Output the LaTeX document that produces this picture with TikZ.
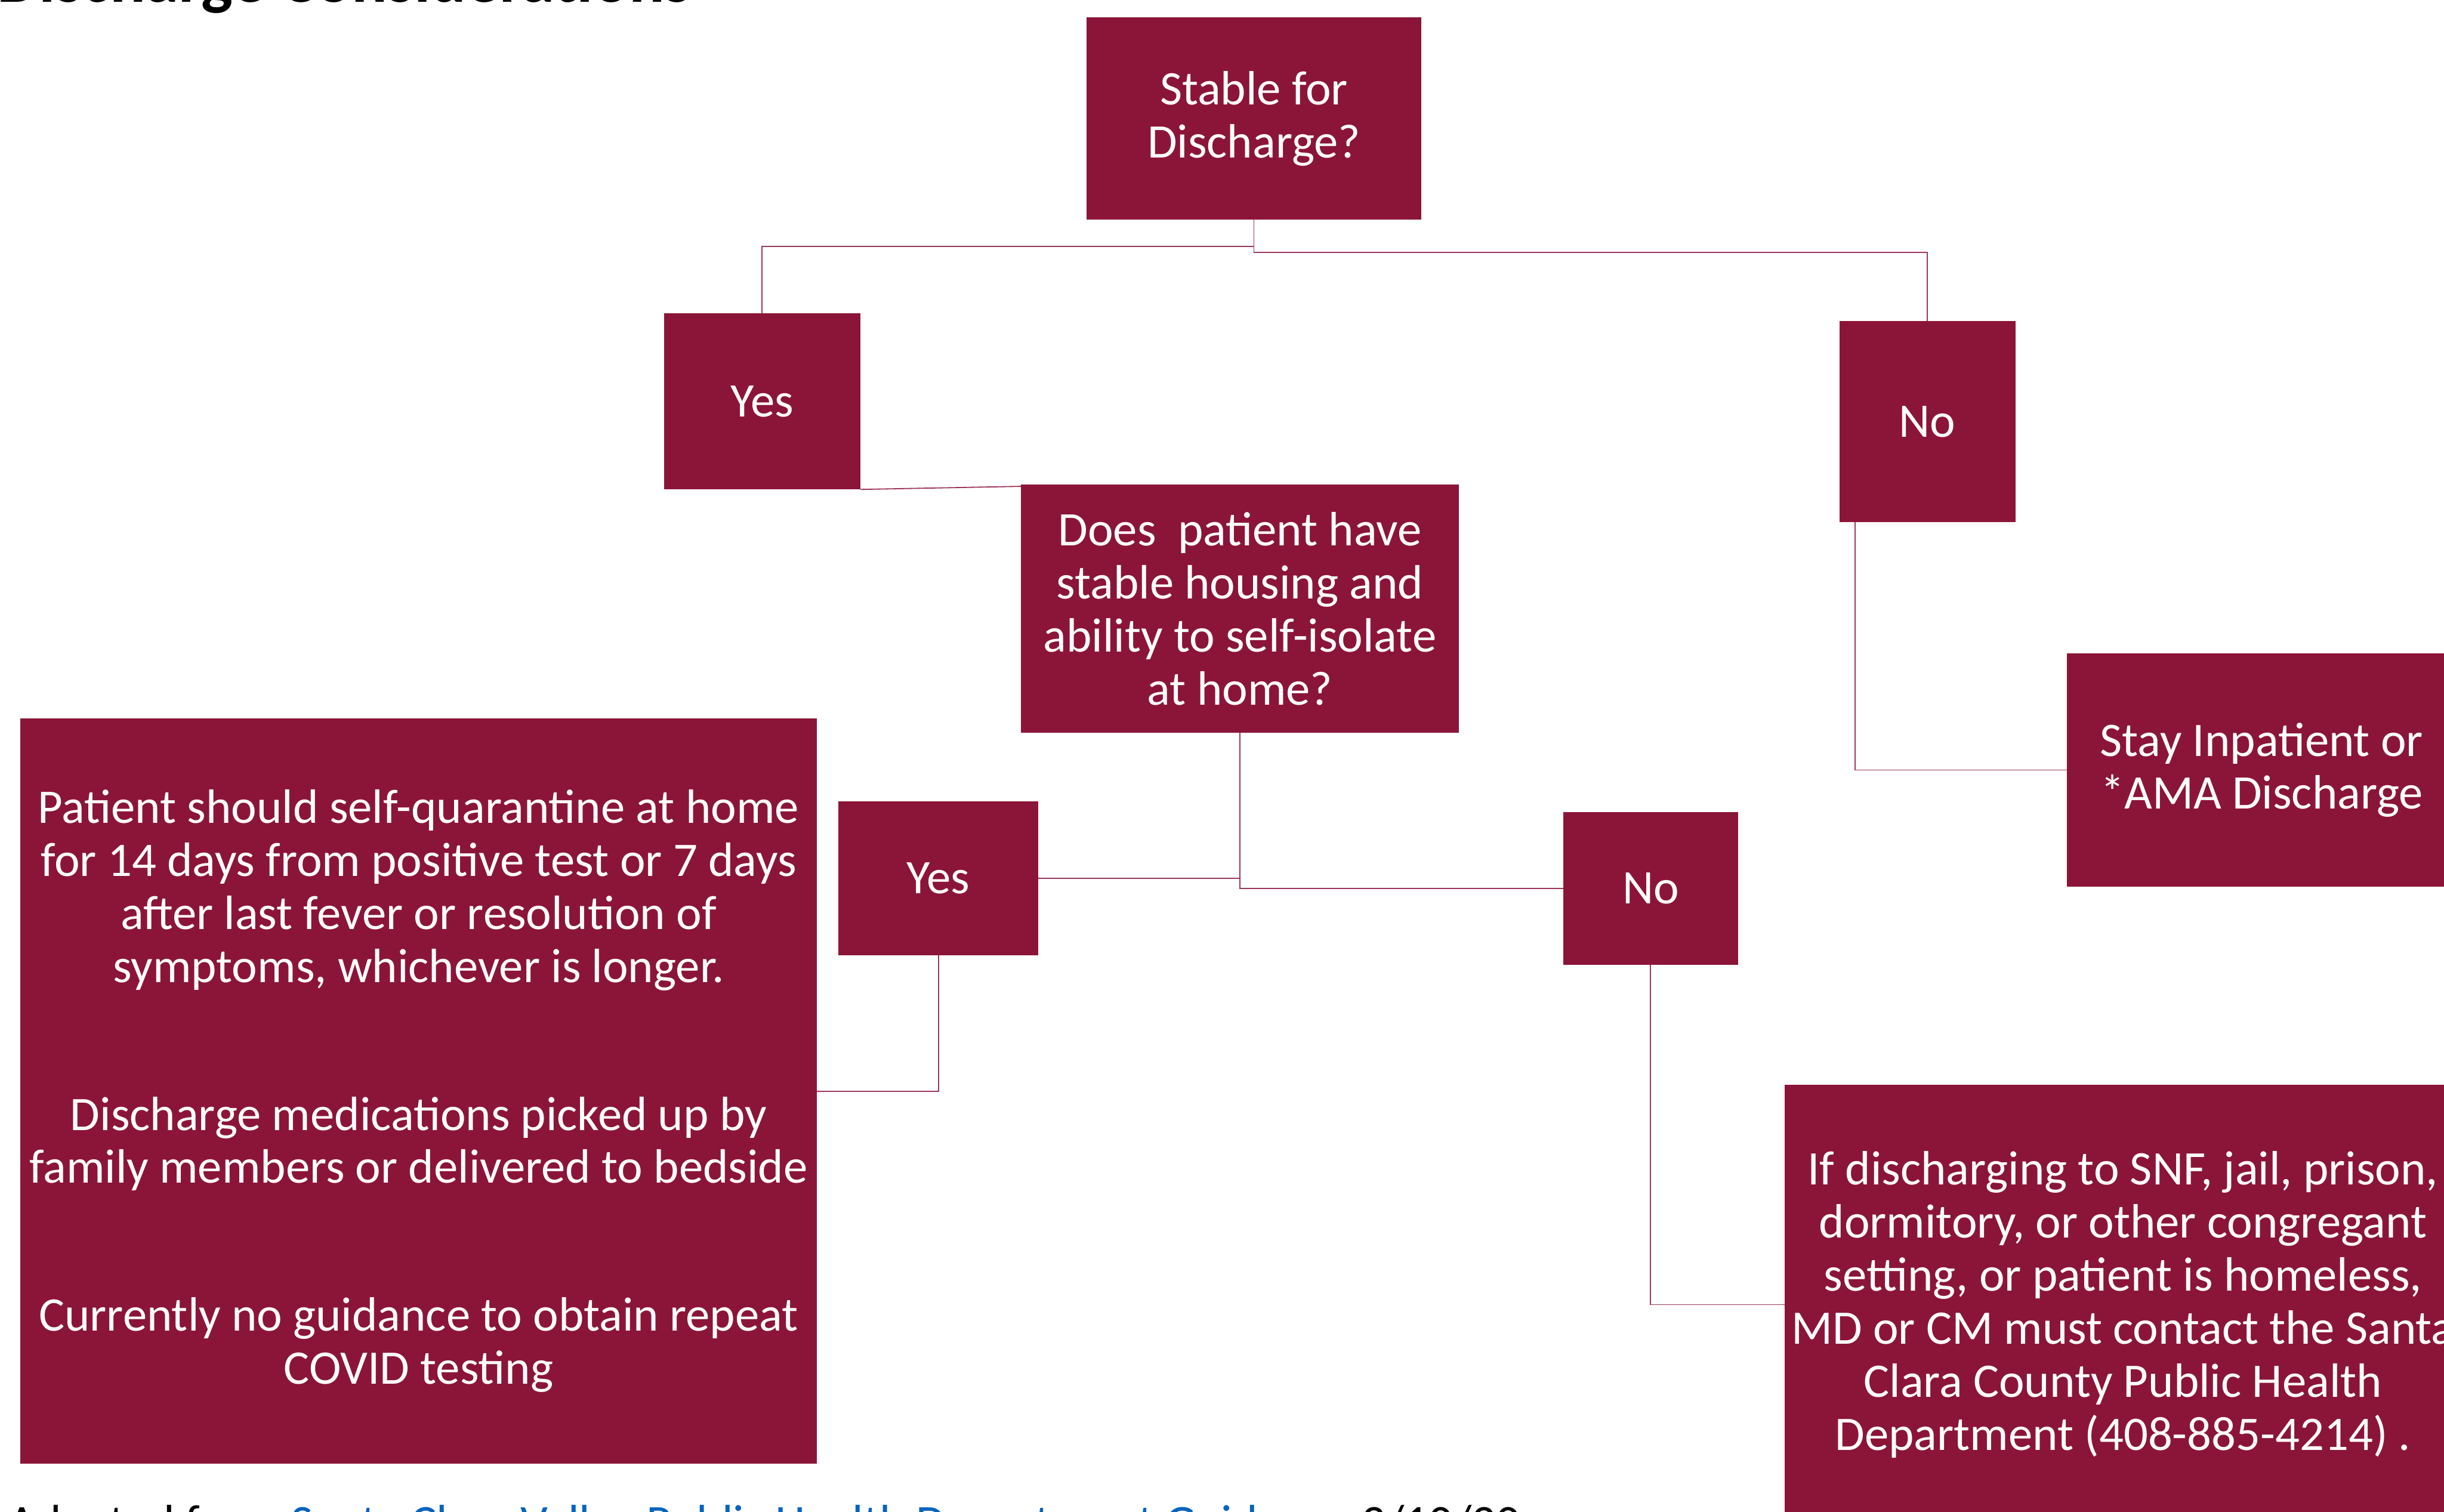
\documentclass[tikz,border=0pt]{standalone}
\usepackage{fontspec}
\setmainfont{Carlito}
\usetikzlibrary{calc}
\definecolor{boxcol}{RGB}{139,21,56}
\definecolor{linkblue}{RGB}{5,99,193}
\tikzset{
  fbox/.style={fill=boxcol, draw=none, inner sep=0pt, outer sep=0pt, text=white, align=center,
    font=\fontsize{17.6pt}{19.35pt}\selectfont},
  conn/.style={draw=boxcol!85!white, line width=0.4pt}
}
\begin{document}
\begin{tikzpicture}[x=0.02cm, y=-0.02cm]
\useasboundingbox (0,0) rectangle (1568,970);
% title (cut at top)
\node[anchor=base west, inner sep=0pt, font=\fontsize{24.3pt}{28pt}\selectfont\bfseries] (title) at (-2,1.5) {Discharge Considerations};
% boxes
\node[fbox, minimum width=4.30cm, minimum height=2.60cm] (stable) at (804.5,76) {Stable for\\Discharge?};
\node[fbox, minimum width=2.52cm, minimum height=2.26cm] (yes1) at (489,257.5) {Yes};
\node[fbox, minimum width=2.26cm, minimum height=2.58cm] (no1) at (1236.5,270.5) {No};
\node[fbox, minimum width=5.62cm, minimum height=3.18cm] (does) at (795.5,390.5) {Does\ \ patient have\\stable housing and\\ability to self-isolate\\at home?};
\node[fbox, minimum width=5.00cm, minimum height=3.00cm] (stay) at (1451,494) {Stay Inpatient or\\*AMA Discharge};
\node[fbox, minimum width=10.22cm, minimum height=9.56cm] (left) at (268.5,700) {Patient should self-quarantine at home\\for 14 days from positive test or 7 days\\after last fever or resolution of\\symptoms, whichever is longer.\\[34.7pt]Discharge medications picked up by\\family members or delivered to bedside\\[34.7pt]Currently no guidance to obtain repeat\\COVID testing};
\node[fbox, minimum width=2.56cm, minimum height=1.98cm] (yes2) at (602,563.5) {Yes};
\node[fbox, minimum width=2.24cm, minimum height=1.96cm] (no2) at (1059,570) {No};
\node[fbox, minimum width=8.68cm, minimum height=5.64cm] (right) at (1362,837) {If discharging to SNF, jail, prison,\\dormitory, or other congregant\\setting, or patient is homeless,\\MD or CM must contact the Santa\\Clara County Public Health\\Department (408-885-4214) .};
% connectors
\draw[conn] (stable.south) -- ++(0,17) -| (yes1.north);
\draw[conn] (stable.south) -- ++(0,21) -| (no1.north);
\draw[conn] (yes1.south east) -- ($(does.north west)+(0,1)$);
\draw[conn] ($(no1.south west)+(10,0)$) |- (stay.west);
\draw[conn] (does.south) |- (yes2.east);
\draw[conn] (does.south) |- (no2.west);
\draw[conn] (yes2.south) |- (left.east);
\draw[conn] (no2.south) |- (right.west);
% source line (cut at bottom)
\node[anchor=base west, inner sep=0pt, font=\fontsize{17.6pt}{19.35pt}\selectfont] (src) at (5,987) {Adapted from \textcolor{linkblue}{Santa Clara Valley Public Health Department Guidance} 3/10/20};
\end{tikzpicture}
\end{document}
